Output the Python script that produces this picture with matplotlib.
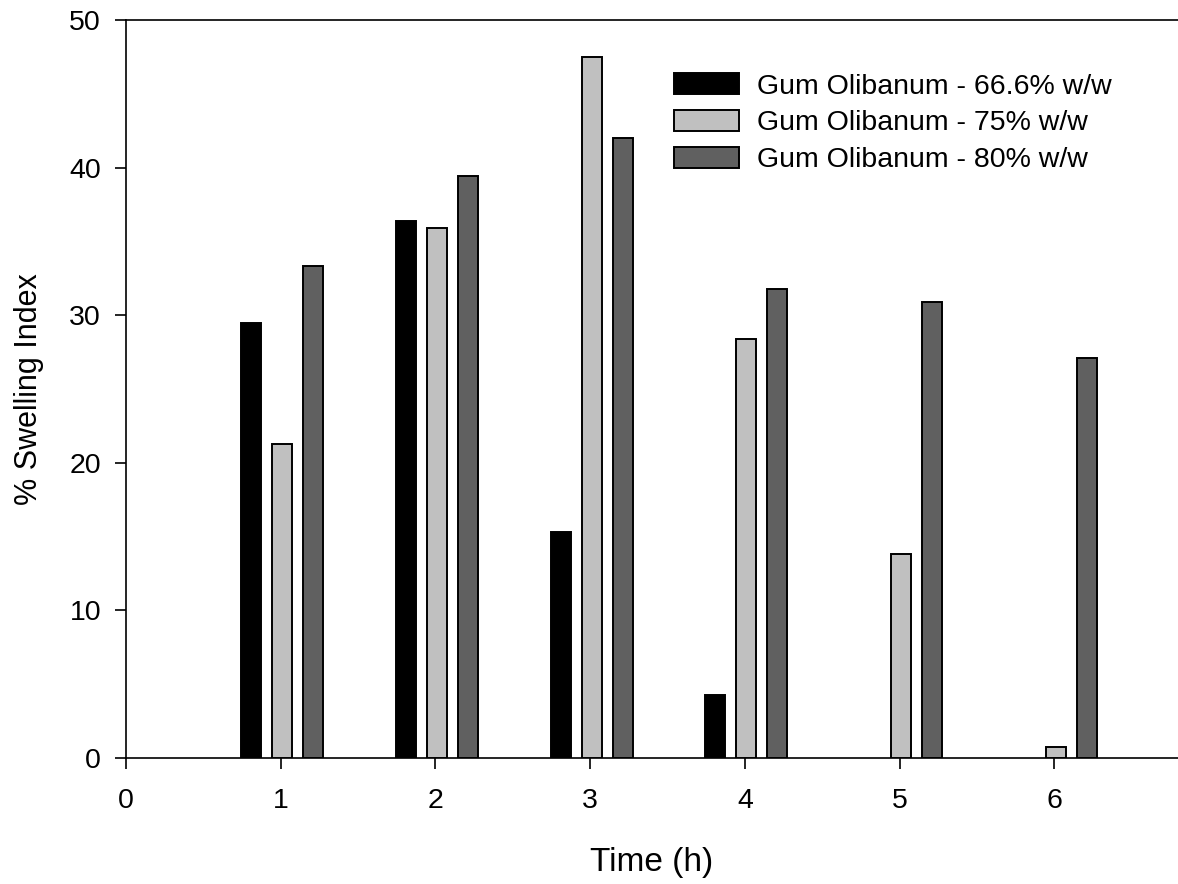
import matplotlib
matplotlib.use("Agg")
import matplotlib.pyplot as plt
import numpy as np

plt.rcParams['font.family'] = ['Liberation Sans', 'DejaVu Sans']

# data
hours = [1, 2, 3, 4, 5, 6]
gum_666 = [29.5, 36.4, 15.3, 4.3, 0, 0]
gum_75 = [21.3, 35.9, 47.5, 28.4, 13.8, 0.75]
gum_80 = [33.3, 39.4, 42.0, 31.8, 30.9, 27.1]
labels = ["Gum Olibanum - 66.6% w/w", "Gum Olibanum - 75% w/w", "Gum Olibanum - 80% w/w"]
colors = ["#000000", "#c0c0c0", "#606060"]

fig = plt.figure(figsize=(11.78, 8.84), dpi=100)
ax = fig.add_axes([126/1178, 1-758/884, 1-126/1178, (758-20)/884])

x = np.array(hours, dtype=float)
w = 0.13
offsets = [-0.19, 0.01, 0.21]
for vals, off, c, lab in zip([gum_666, gum_75, gum_80], offsets, colors, labels):
    # skip zero heights so no empty outlines are drawn
    v = np.array(vals)
    m = v > 0
    ax.bar(x[m] + off, v[m], width=w, color=c, edgecolor="black",
           linewidth=1.4, label=lab, zorder=3)

ax.set_xlim(0, 6.8)
ax.set_ylim(0, 50)
ax.set_xticks(range(0, 7))
ax.set_yticks(range(0, 51, 10))
ax.tick_params(direction="out", length=8, width=1.2, labelsize=20.5)
ax.tick_params(axis="y", pad=10)
ax.tick_params(axis="x", pad=13.5)
for s in ["left", "bottom", "top"]:
    ax.spines[s].set_linewidth(1.2)
ax.spines["right"].set_visible(False)

ax.set_xlabel("Time (h)", fontsize=24, labelpad=24)
ax.set_ylabel("% Swelling Index", fontsize=22, labelpad=18)

ax.legend(loc="upper left", bbox_to_anchor=(674/1178, 1-73/884),
          bbox_transform=fig.transFigure, frameon=False, fontsize=20.5,
          handlelength=2.3, handleheight=0.77, handletextpad=0.6,
          labelspacing=0.36, borderpad=0, borderaxespad=0)

fig.savefig("out.png", dpi=100)
